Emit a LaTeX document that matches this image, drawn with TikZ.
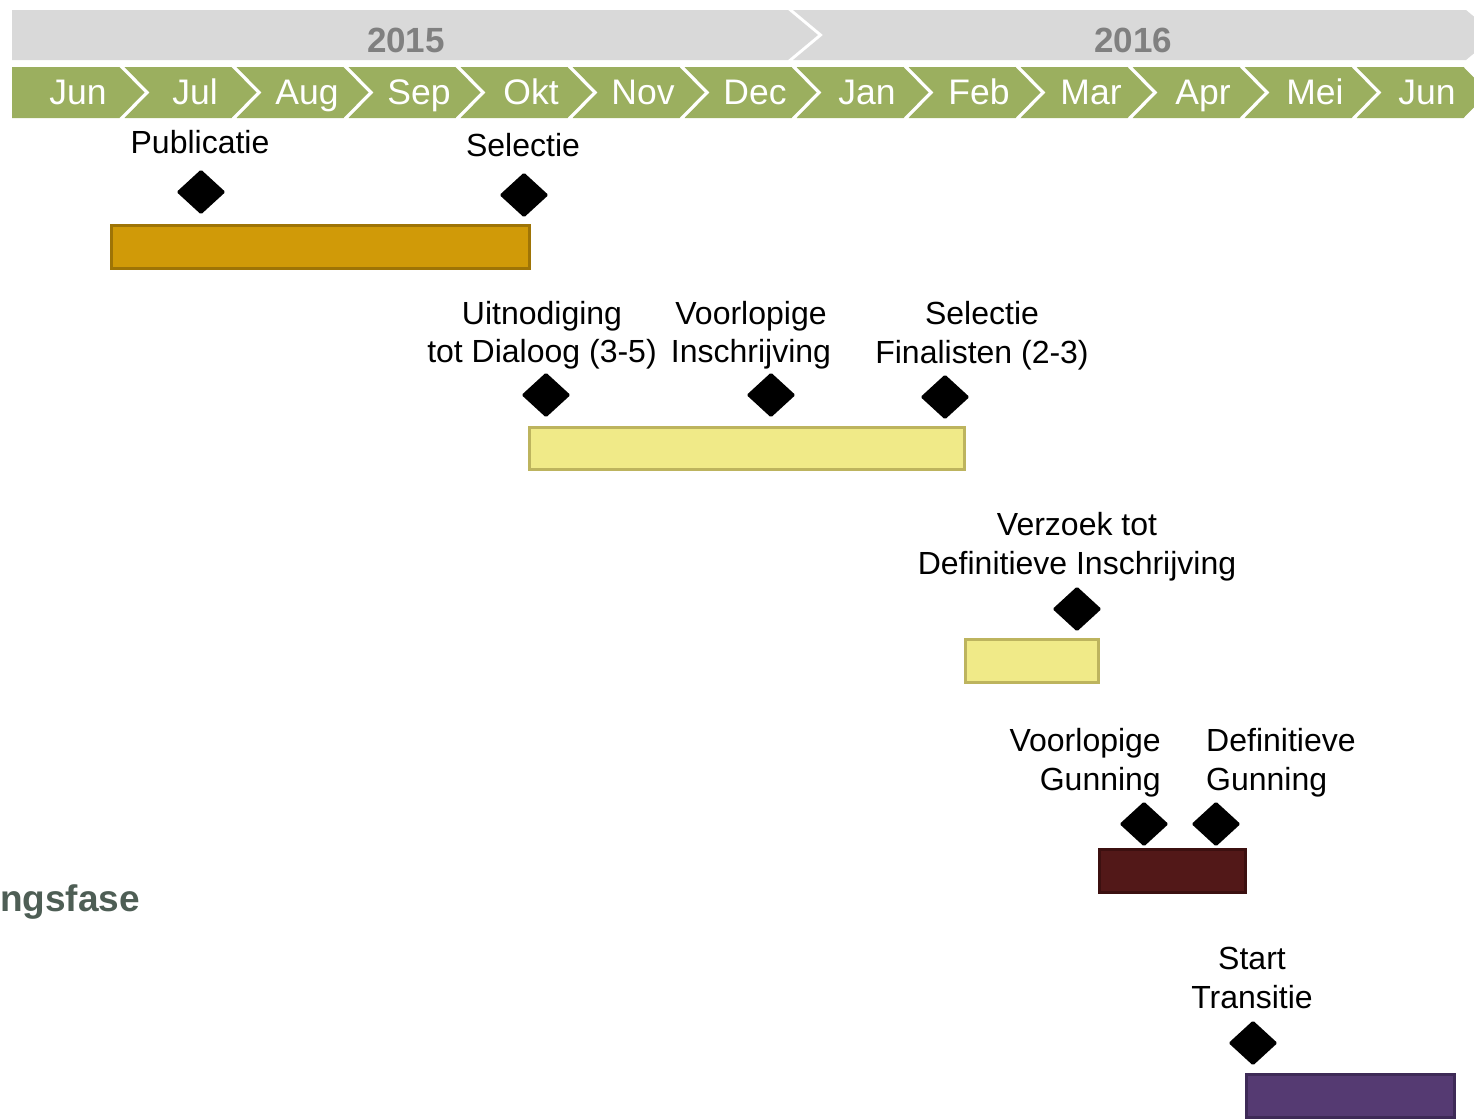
\documentclass[tikz,border=0pt]{standalone}
\usepackage{fontspec}
\setmainfont{Liberation Sans}
\usetikzlibrary{shapes.geometric}
\definecolor{yeargray}{HTML}{D9D9D9}
\definecolor{yeartext}{HTML}{808080}
\definecolor{monthgreen}{HTML}{9BAF5F}
\definecolor{orangefill}{HTML}{D09A08}
\definecolor{orangeline}{HTML}{9E7406}
\definecolor{yellowfill}{HTML}{F0EA88}
\definecolor{yellowline}{HTML}{BDB45E}
\definecolor{redfill}{HTML}{521818}
\definecolor{redline}{HTML}{3C1010}
\definecolor{purplefill}{HTML}{553A72}
\definecolor{purpleline}{HTML}{3E2A57}
\definecolor{phasetext}{HTML}{4E5E55}
\tikzset{
  milestone/.style={shape=diamond, fill=black, inner sep=0pt, minimum width=49pt, minimum height=45pt, rounded corners=1.5pt},
  bar/.style={rectangle, line width=3pt, inner sep=0pt},
  lbl/.style={inner sep=0pt, font=\fontsize{32}{38.5}\selectfont, text=black},
  monthlbl/.style={inner sep=0pt, anchor=base, font=\fontsize{35.5}{40}\selectfont, text=white},
  yearlbl/.style={inner sep=0pt, anchor=base, font=\bfseries\fontsize{35}{42}\selectfont, text=yeartext},
}
\begin{document}
\begin{tikzpicture}[x=1pt,y=-1pt]
\useasboundingbox (0,0) rectangle (1474,1119);
% year band
\fill[yeargray] (12,10) -- (788,10) -- (818,35) -- (788,60) -- (12,60) -- cycle;
\fill[yeargray] (793,10) -- (1466,10) -- (1496,35) -- (1466,60) -- (793,60) -- (823,35) -- cycle;
\node[yearlbl] (y2015) at (406,52) {2015};
\node[yearlbl] (y2016) at (1133,52) {2016};
% month band
\fill[monthgreen] (12,67) -- (119.5,67) -- (144.5,92.5) -- (119.5,118) -- (12,118) -- cycle;
\foreach \i [evaluate=\i as \bl using 10+112*\i, evaluate=\i as \br using 10+112*(\i+1)] in {1,...,12} {
  \fill[monthgreen] (\bl+2.5,67) -- (\br-2.5,67) -- (\br+22.5,92.5) -- (\br-2.5,118) -- (\bl+2.5,118) -- (\bl+27.5,92.5) -- cycle;
}
\foreach \m/\x [count=\i from 0] in {Jun/78,Jul/195,Aug/307,Sep/419,Okt/531,Nov/643,Dec/755,Jan/867,Feb/979,Mar/1091,Apr/1203,Mei/1315,Jun/1427} {
  \node[monthlbl] (m\i) at (\x,104) {\m};
}
% phase 1
\node[bar, draw=orangeline, fill=orangefill, minimum width=418pt, minimum height=43pt] (bar1) at (320.5,247) {};
\node[milestone] (d1) at (201,192) {};
\node[milestone] (d2) at (524,195) {};
\node[lbl, anchor=base] (t1) at (200,153) {Publicatie};
\node[lbl, anchor=base] (t2) at (523,156) {Selectie};
% phase 2
\node[bar, draw=yellowline, fill=yellowfill, minimum width=435pt, minimum height=42pt] (bar2) at (747,448.5) {};
\node[milestone] (d3) at (546,395) {};
\node[milestone] (d4) at (771,395) {};
\node[milestone] (d5) at (945,397) {};
\node[lbl, anchor=base, align=center] (t3) at (542,362.5) {Uitnodiging\\tot Dialoog (3-5)};
\node[lbl, anchor=base, align=center] (t4) at (751,362.5) {Voorlopige\\Inschrijving};
\node[lbl, anchor=base, align=center] (t5) at (982,363) {Selectie\\Finalisten (2-3)};
% phase 3
\node[bar, draw=yellowline, fill=yellowfill, minimum width=133pt, minimum height=43pt] (bar3) at (1032,661) {};
\node[milestone] (d6) at (1077,609) {};
\node[lbl, anchor=base, align=center] (t6) at (1077,574) {Verzoek tot\\Definitieve Inschrijving};
% phase 4
\node[bar, draw=redline, fill=redfill, minimum width=146pt, minimum height=43pt] (bar4) at (1172.5,871) {};
\node[milestone] (d7) at (1144,824) {};
\node[milestone] (d8) at (1216,824) {};
\node[lbl, anchor=base east, align=right] (t7) at (1161,790) {Voorlopige\\Gunning};
\node[lbl, anchor=base west, align=left] (t8) at (1206,790) {Definitieve\\Gunning};
\node[inner sep=0pt, anchor=base west, font=\bfseries\fontsize{37}{42}\selectfont, text=phasetext] (phase) at (0,911) {ngsfase};
% phase 5
\node[bar, draw=purpleline, fill=purplefill, minimum width=208pt, minimum height=43pt] (bar5) at (1350.5,1096) {};
\node[milestone] (d9) at (1253,1043) {};
\node[lbl, anchor=base, align=center] (t9) at (1252,1008) {Start\\Transitie};
\end{tikzpicture}
\end{document}
